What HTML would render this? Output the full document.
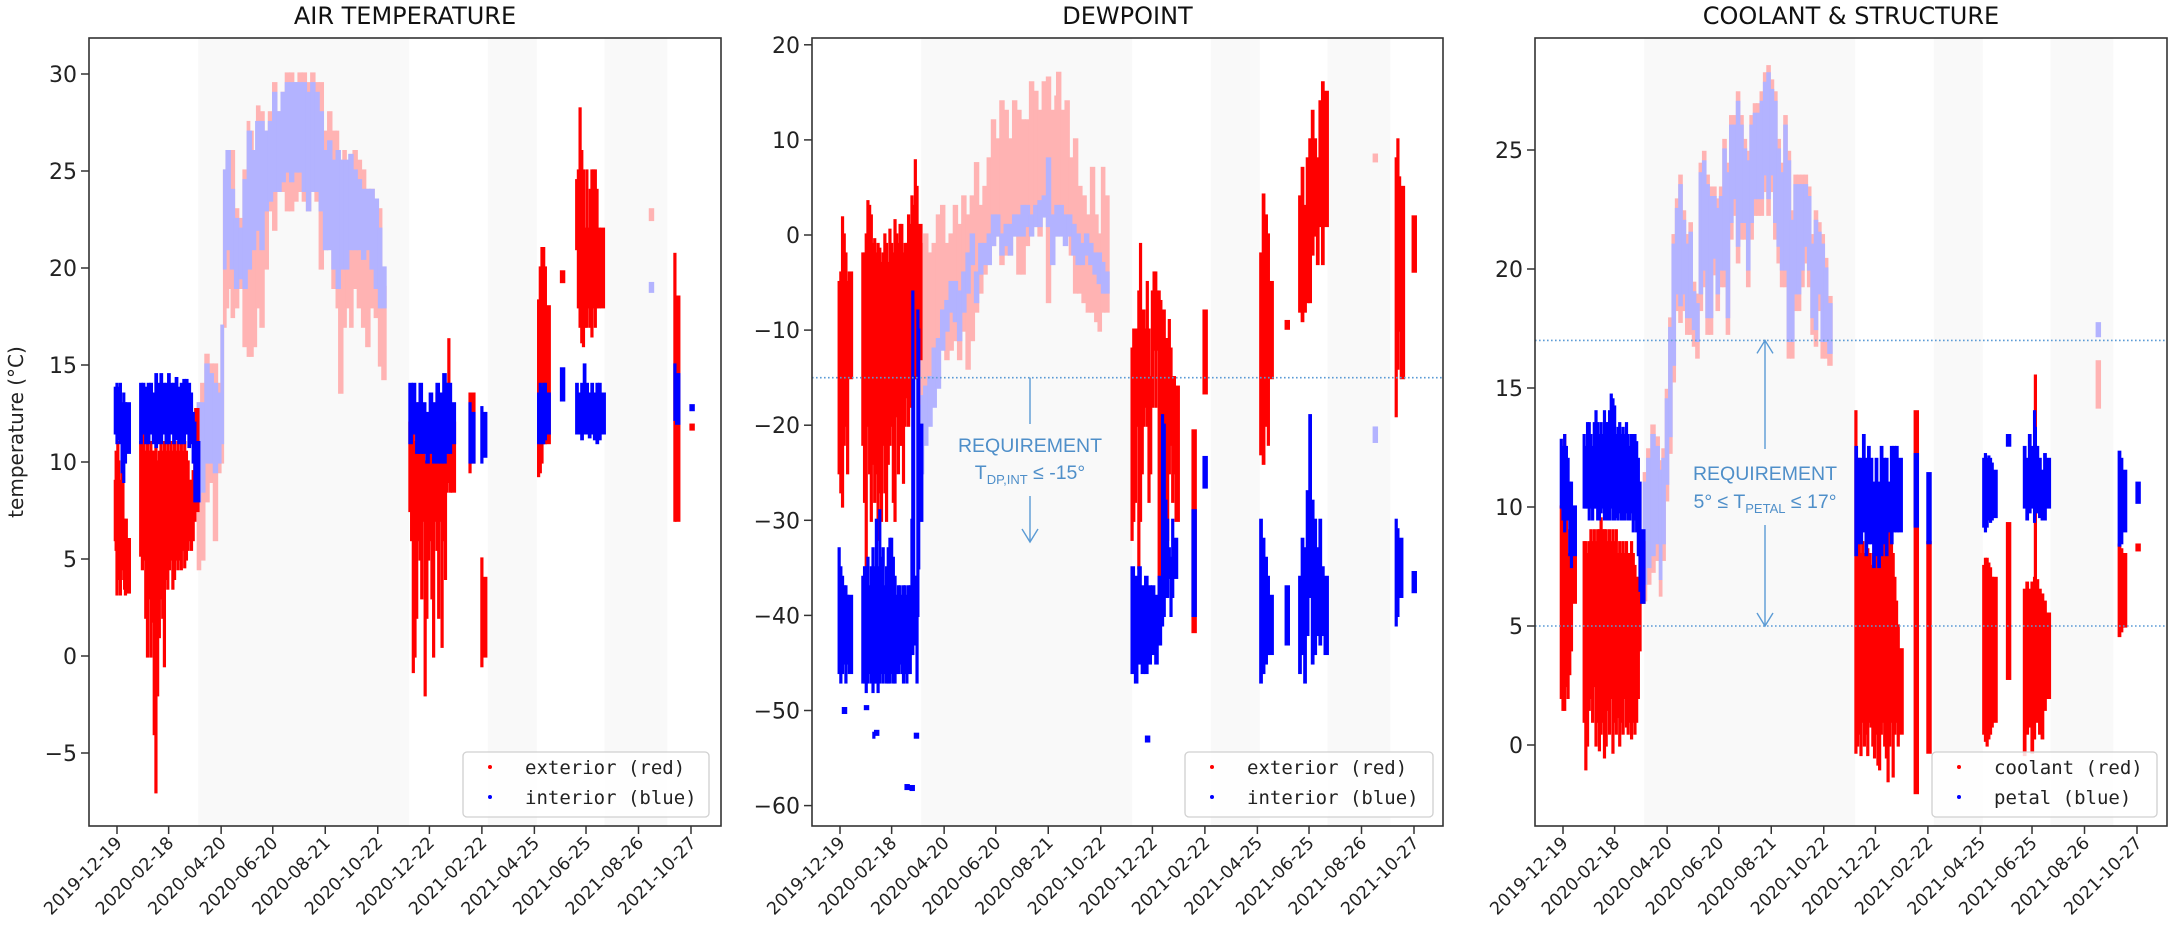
<!DOCTYPE html>
<html><head><meta charset="utf-8"><style>
html,body{margin:0;padding:0;background:#fff;}
svg{display:block;}
</style></head>
<body>
<svg id="fig" width="2170" height="929" viewBox="0 0 2170 929" xmlns="http://www.w3.org/2000/svg" font-family="'DejaVu Sans', sans-serif">
<rect x="0" y="0" width="2170" height="929" fill="#fff"/>
</svg>
<script>
// ---------- shared data ----------
const tickDates = ['2019-12-19','2020-02-18','2020-04-20','2020-06-20','2020-08-21','2020-10-22','2020-12-22','2021-02-22','2021-04-25','2021-06-25','2021-08-26','2021-10-27'];
const shadeBands = [[96,345],[438,496],[576,650]];

// ---------- AIR TEMPERATURE: [day, low, high] ----------
const airExterior = [[-2,6,9],[-1,5.5,10.5],[0,3.2,9],[1,4,11],[2,6,10],[3,5,9],[4,3.2,8],[5,5,7],[6,4.5,10],[7,6,9],[8,4,7],[9,3.5,6.5],[10,3.2,5],[11,4,7],[12,3.3,6],
[28,5.2,11],[30,4.5,11],[32,5,11.5],[34,2,10.5],[36,0,11],[38,3,10.5],[40,0,11],[42,1.8,10.5],[44,-4,10.5],[46,-7,11],[48,-2,10],[50,1,10.5],[52,3,11],[54,2,10.5],[56,-0.5,11],[58,4,10.5],[60,3.5,11],[62,4.5,10.5],[64,5,11],[66,3.5,10.5],[68,4,11],[70,5,10.5],[72,4.5,11],[74,5,10.5],[76,4.5,11],[78,5.5,10.5],[80,4.6,11],[82,5,10.5],[84,5.5,10],[86,6,9],[88,5.5,9],[90,6,9.5],[92,7,10],[93,7.5,12.7],
[346,7.5,12],[348,6,11],[350,-0.8,12],[352,0,11],[354,2,12],[356,6,13],[358,5,12],[360,3,11],[362,7,12.5],[364,-2,10],[366,2,11],[368,5,12],[370,6,11.5],[372,3,12],[374,0,12],[376,7,12.5],[378,5.5,13.5],[380,2,12],[382,7,12],[384,0.5,12],[386,6,13],[388,4,13],[390,8.5,14],[392,9,16.3],[394,8.5,12],[396,8.5,12],
[417,9.5,13.5],[419,10,13.5],[431,-0.5,5],[433,0,4],
[498,9.3,18.3],[500,9.5,20],[502,10,21],[504,11,21],[506,11,20],[508,11,18],[525,19.3,19.8],
[543,21,24.5],[545,18,25],[547,17,28.2],[549,16.2,26],[551,16,25],[553,17,22],[555,17,25],[557,18,22],[559,17,24],[561,16.5,25],[563,18,25],[565,17,25],[567,18,24],[569,18,22],[572,18,22],
[659,7,20.7],[661,7,18.5],[678,11.7,11.9]];
const airInterior = [[-2,11.5,13.8],[0,11,14],[2,11.2,13.8],[4,11,14],[6,9.5,13],[8,9,13.5],[10,10,13],[12,10.5,13],
[28,11,14],[31,11.5,14],[34,11,13.8],[37,11,14],[40,11.5,14],[43,11,13.5],[46,10.8,14.5],[49,11,14],[52,11,14.5],[55,11.5,14],[58,11,14],[61,11,14.5],[64,11.5,14],[67,11,14],[70,11.2,14.3],[73,11,13.8],[76,11,14],[79,11,14.2],[82,11.5,14.2],[85,10.8,14],[88,11,13.5],[90,10,12.5],[92,8,12],[94,8,11],
[346,11,14],[350,11.5,14],[354,10.5,13],[358,10.5,14],[362,10.5,13],[366,10,12.5],[370,10.5,13.5],[374,10,13],[378,10,14],[382,10,13.5],[386,10,14.5],[390,10.5,14],[394,10.5,14],[396,11,13],
[417,10,13],[419,10,12.5],[431,10,12.8],[433,10.3,12.5],
[498,11,13.5],[500,11,14],[502,11,13.8],[504,11,14],[506,11.2,14],[508,11.5,13.5],[525,13.2,14.8],
[543,11.5,14],[546,11.5,13.5],[549,11.2,14],[552,11.5,15],[555,11.5,14],[558,11.3,13.5],[561,11.5,14],[564,11.2,13.5],[567,11,14],[570,11.2,14],[573,11.5,13.5],
[659,12.2,15],[661,12,14.5],[678,12.7,12.9]];
const airExteriorFaded = [[96,4.5,13],[100,5,14],[105,8,15.5],[110,9,15],[115,6,15],[120,9.5,14],[124,10,17],[127,17,25],[130,18,26],[133,19,26],[136,17.5,26],[140,18,23],[145,19,22.5],[150,16,25],[155,15.5,27.5],[158,15.5,27],[162,16,25],[166,18,28.3],[170,17,28],[175,20,27],[180,23,28],[185,22,29.5],[190,24,28],[195,24,29],[200,23,30],[205,23,30],[210,23.5,29.5],[215,24,30],[220,23.5,30],[225,23,29.5],[230,24,30],[235,23.5,29.5],[240,20,29.5],[245,21,27],[250,22,28],[255,19,27],[260,18,27],[263,13.6,25.5],[268,17,26],[272,18,25.5],[276,17,25.8],[280,19,26],[285,18,25.5],[290,17,25],[295,16,24],[300,18,24],[305,17.5,23.5],[310,15,23],[314,14.3,19],[630,22.5,23]];
const airInteriorFaded = [[96,8,13],[100,8.5,13],[105,10,15],[110,10,14.5],[115,9.5,14],[120,10,13.5],[124,11,17],[127,20,25],[130,21,26],[135,20,24],[140,19,22.5],[145,19.5,22],[150,19,24.5],[155,20,27],[160,21,26],[165,22,27.5],[170,21,27.5],[175,23,27],[180,23.5,27.5],[185,24,29],[190,24,28],[195,24.5,29],[200,25,29.5],[205,24.5,29.5],[210,25,29.5],[215,25,29.5],[220,24,29.5],[225,23,29],[230,24,29.5],[235,24,29],[240,23,28],[245,21,26],[250,21,26.5],[255,20,25.5],[260,19,26],[265,20,25.5],[270,20,25.5],[275,21,25.8],[280,21,25],[285,21,24.5],[290,20.5,24],[295,21,24],[300,20,24],[305,19,23.5],[310,18,22],[314,18,20],[630,18.8,19.2]];

// ---------- DEWPOINT ----------
const dewExterior = [[-1,-25,-5],[1,-27,-4],[3,-28.5,1.8],[5,-22,0],[7,-20,-2],[9,-25,-5],[11,-15,-4],
[27,-22,-2],[29,-28,-2],[31,-35,0],[33,-20,3.5],[35,-25,3],[37,-30,2],[39,-24,-1],[41,-28,-0.5],[43,-25,-2],[45,-32,-1],[47,-27,-1.5],[49,-30,-3],[51,-22,-2],[53,-27,0],[55,-30,-1],[57,-24,-3],[59,-22,0.5],[61,-20,-1],[63,-28,-2],[65,-30,1.5],[67,-19,0],[69,-25,-1],[71,-22,1],[73,-22,1],[75,-26,-2],[77,-20,-1],[79,-17,-1],[81,-20,2],[83,-18,1],[85,-16,4],[87,-15,3],[89,-15,7.8],[91,-14,5],[93,-13,1],
[345,-32,-12],[347,-30,-10],[349,-28,-10],[351,-20,-10],[353,-35,-6],[355,-30,-1],[357,-25,-8],[359,-20,-8],[361,-18,-10],[363,-20,-5],[365,-28,-10],[367,-25,-15],[369,-18,-6],[371,-12,-4],[373,-18,-4],[375,-12,-6],[377,-38,-6],[379,-40,-7],[381,-30,-8],[383,-28,-8],[385,-30,-11],[387,-32,-11],[389,-25,-9],[391,-22,-12],[393,-28,-15],[395,-25,-15],[397,-30,-16],
[417,-41.7,-20.6],[430,-16.6,-8],
[497,-23,-2],[500,-24,4.2],[503,-20,2],[506,-22,0],[508,-15,-5],[527,-9.8,-9.1],
[543,-8,4],[546,-9,7],[549,-8,3],[552,-7,8],[555,-7,10],[558,-2,13],[561,0,10],[564,-3,8],[567,1,14],[570,-3,16],[573,1,15],
[657,-19,8],[659,-14,10],[661,-10,6],[663,-15,5],[677,-3.8,1.9]];
const dewInterior = [[-1,-46,-33],[1,-47,-35],[3,-46,-36],[5,-45,-37],[7,-47,-37],[9,-45,-38],[11,-46,-38],[4,-50.2,-49.8],
[27,-47,-36],[29,-47,-35],[31,-48,-35],[33,-47,-34],[35,-46,-37],[37,-47,-35],[39,-48,-33],[41,-47,-35],[43,-47,-30],[45,-48,-35],[47,-47,-29],[49,-46,-34],[51,-47,-33],[53,-46,-37],[55,-47,-35],[57,-47,-33],[59,-47,-32],[61,-46,-32],[63,-47,-34],[65,-47,-36],[67,-46,-38],[69,-46,-37],[71,-45,-37],[73,-46,-38],[75,-47,-37],[77,-46,-37],[79,-47,-38],[81,-46,-37],[83,-46,-37],[85,-44,-30],[86,-44,-6],[87,-40,-15],[89,-43,-36],[91,-47,-36],[92,-40,-8],[93,-35,-10],[94,-30,-20],
[30,-49.8,-49.6],[40,-52.8,-52.4],[42,-52.5,-52.2],[78,-58.2,-57.9],[84,-58.3,-58],[89,-52.8,-52.5],
[345,-46,-35],[349,-47,-36],[353,-45,-35],[357,-46,-37],[361,-46,-36],[365,-45,-37],[369,-44,-37],[373,-45,-38],[377,-43,-36],[381,-41,-19],[383,-40,-20],[385,-38,-28],[387,-38,-30],[389,-36,-33],[391,-40,-34],[393,-38,-30],[395,-36,-32],[362,-53.2,-52.8],
[417,-40,-29],[430,-26.5,-23.4],
[497,-47,-30],[500,-46,-32],[503,-45,-34],[506,-44,-36],[508,-44,-38],[527,-43,-37],
[543,-46,-36],[546,-44,-32],[549,-47,-33],[552,-42,-27],[555,-38,-19],[558,-45,-28],[561,-44,-30],[564,-42,-33],[567,-43,-30],[570,-42,-35],[573,-44,-36],
[657,-41,-30],[659,-40,-31],[661,-38,-32],[677,-37.5,-35.5]];
const dewExteriorFaded = [[95,-22,-1],[100,-20,0],[105,-18,-2],[110,-15,-1],[115,-12,2],[120,-10,3],[125,-13,-1],[130,-12,0],[135,-11,3],[140,-13,1],[145,-10,4],[150,-14,2],[155,-11,4],[160,-8,7.5],[165,-6,3],[170,-4,5],[175,-2,8],[180,-1,12],[185,0,10],[190,-3,14],[195,-2,13],[200,-2,10],[205,0,14],[210,-4,13],[215,-4,12],[220,-1,12],[225,2,16],[230,1,15],[235,0,13],[240,3,16],[245,-7,16.5],[250,-2,13],[255,0,14.5],[257,3,17],[262,2,13],[267,0,14],[272,-2,8],[277,-6,10],[282,-6,5],[287,-7,4],[292,-8,2],[297,-8,7],[302,-9,2],[306,-10,0],[310,-8,7],[314,-8,4],[631,7.8,8.4]];
const dewInteriorFaded = [[94,-30,-18],[97,-25,-17],[100,-22,-16],[105,-20,-15],[110,-18,-12],[115,-16,-11],[120,-12,-8],[125,-10,-7],[130,-8,-5],[135,-9,-5],[140,-11,-6],[145,-8,-4],[150,-6,-2],[155,-3,0],[160,-7,-4],[165,-4,-1],[170,-3,-1],[175,-3,0],[180,-1,2],[185,0,2],[190,-2,0],[195,-1,1],[200,-2,1],[205,0,2],[210,0,2],[215,0,3],[220,1,3],[225,0,2],[230,1,3],[235,1,3.5],[240,2,4],[245,1,8],[250,-3,2],[255,0,3],[260,0,3],[265,-1,2],[270,0,2],[275,-2,1],[280,-3,0],[285,-3,-1],[290,-2,0],[295,-3,-1],[300,-4,-2],[305,-5,-2],[310,-6,-3],[314,-6,-4],[631,-21.7,-20.3]];

// ---------- COOLANT & STRUCTURE ----------
const coolantRed = [[-2,2,10],[0,1.5,12],[2,1.5,13],[4,2.5,11],[6,2,8],[8,3,9],[10,4,9],[12,6,9],
[25,1,8.5],[27,-1,8.5],[29,0,8],[31,1.5,8.5],[33,2,9],[35,1,8.5],[37,2.5,9],[39,0,8.5],[41,1,9],[43,-0.2,9],[45,0.5,9.5],[47,1,9],[49,-0.5,9],[51,0,9],[53,1.5,8.5],[55,0.5,9],[57,2,8.5],[59,-0.3,9],[61,1,8.5],[63,0.5,9],[65,1.2,8],[67,0,8.5],[69,1,8],[71,0.5,8.5],[73,2,8],[75,0.8,8.5],[77,0.5,8],[79,1,8],[81,0.3,8.5],[83,1,8],[85,0.5,7.5],[87,1,7],[89,2,7],[91,4,8],[93,6,8.5],
[346,-0.3,14],[348,0,12],[350,0.5,9],[352,-0.4,8],[354,1,8.5],[356,0,8],[358,0.5,8],[360,-0.4,8.2],[362,1,8],[364,0.8,7.5],[366,0,8],[368,-0.5,8.2],[370,0.5,8],[372,-0.8,8],[374,-1,7.5],[376,0.5,8.2],[378,1,8],[380,0,8.5],[382,-0.5,8],[384,-1.5,8.5],[386,0,9],[388,1,9],[390,-1.3,8],[392,0.5,7],[394,1,6],[396,0,5],[398,0.5,4],
[416,-2,14],[431,-0.3,8.5],
[497,0.5,7.5],[499,0.2,7.8],[501,0,7.8],[503,0.3,7.6],[505,0.5,7.4],[507,0.8,7],[509,1,7],[525,2.8,9.3],
[545,-0.4,6.5],[548,0.5,6.8],[551,0.8,6.5],[554,-0.3,6.8],[557,0.3,7],[558,6,15.5],[560,1,6.9],[563,0.5,6.5],[566,0.3,6.3],[569,1.5,6],[572,2,5.5],
[657,4.6,8.4],[660,4.8,8.2],[662,5,8],[678,8.2,8.4]];
const petalBlue = [[-2,10,12.8],[0,9.5,12.5],[2,9,13],[4,9.5,12.5],[6,9.5,12],[8,8,11],[10,7.5,11],[12,8,10],
[25,10,13],[27,10,12.5],[29,10,13.5],[31,9.5,13.5],[33,10,13],[35,9.5,12.5],[37,10,13.5],[39,10,14],[41,9.5,13.5],[43,9.5,13],[45,9.8,13.5],[47,10,13],[49,9.5,14],[51,9.5,13.5],[53,9.5,13.5],[55,9.5,14],[57,10,14.7],[59,9.5,14.5],[61,9.5,14.2],[63,9.6,13],[65,9.5,13.3],[67,9.8,13.5],[69,9.5,13],[71,9.5,13.3],[73,9.5,13],[75,9.8,13.5],[77,9.5,13],[79,9.5,12.5],[81,9.8,13],[83,9,13],[85,9.5,13],[87,9,12.7],[89,8,12],[91,6.5,11],[93,6,9],
[346,8,12.5],[349,8.5,12],[352,8.5,12],[355,9,13],[358,8,12],[361,8.5,12.5],[364,8.5,12],[367,7.5,11],[370,8,12],[373,7.5,11],[376,8,12.5],[379,8.5,12],[382,8,12],[385,9,11],[388,8.5,12.5],[391,9,12.5],[394,9,12.5],[397,9,12],
[416,9.2,12.2],[431,8.5,11.4],
[497,9.2,12],[499,9,12.2],[501,9.2,12],[503,9.5,12.1],[505,9.4,12],[507,9.5,11.8],[509,9.6,11.5],[525,12.6,13],
[545,10,12.5],[548,9.5,12],[551,9.8,13],[554,10,12.5],[557,9.4,14],[558,10,13.3],[560,9.8,12.5],[563,9.6,12],[566,9.5,11.5],[569,9.5,12.2],[572,10,12],
[657,8.4,12.3],[660,8.5,12],[662,9,11.5],[678,10.2,11]];
const coolantFaded = [[96,6.1,11.4],[100,6.8,12.4],[105,7.3,13.4],[110,7.8,12.9],[115,6.3,11.9],[118,7.8,12.4],[122,10.3,14.9],[126,12.3,17.9],[130,15.3,21.4],[134,18.3,22.9],[138,17.8,23.9],[142,18.3,22.4],[146,17.3,21.4],[150,17.3,21.9],[154,16.8,19.4],[158,16.3,18.9],[162,18.3,24.4],[166,19.3,24.9],[170,17.3,23.9],[174,17.3,23.4],[178,19.8,23.4],[182,18.3,22.9],[186,19.3,23.4],[190,19.3,25.4],[194,17.3,24.4],[198,21.3,26.4],[202,22.3,26.4],[206,20.3,27.4],[210,21.3,26.4],[214,21.3,25.4],[218,19.3,24.9],[222,21.3,26.4],[226,22.3,26.9],[230,22.3,26.9],[234,22.3,27.4],[238,23.3,28.2],[242,22.3,28.5],[246,23.3,27.9],[250,21.3,27.4],[254,20.3,25.4],[258,19.3,24.4],[262,19.3,26.4],[266,16.3,24.9],[270,16.3,22.4],[274,18.3,23.9],[278,18.3,23.9],[282,19.3,23.9],[286,20.3,23.9],[290,19.3,23.4],[294,17.3,21.4],[298,16.8,22.4],[302,18.3,21.9],[306,16.3,21.4],[310,16.3,20.4],[314,16,18.8],[631,14.2,16.1]];
const petalFaded = [[96,6.8,11],[100,7.5,12],[105,8,13],[110,8.5,12.5],[115,7,11.5],[118,8.5,12],[122,11,14.5],[126,13,17.5],[130,16,21],[134,19,22.5],[138,18.5,23.5],[142,19,22],[146,18,21],[150,18,21.5],[154,17.5,19],[158,17,18.5],[162,19,24],[166,20,24.5],[170,18,23.5],[174,18,23],[178,20.5,23],[182,19,22.5],[186,20,23],[190,20,25],[194,18,24],[198,22,26],[202,23,26],[206,21,27],[210,22,26],[214,22,25],[218,20,24.5],[222,22,26],[226,23,26.5],[230,23,26.5],[234,23,27],[238,24,27.8],[242,23,28.2],[246,24,27.5],[250,22,27],[254,21,25],[258,20,24],[262,20,26],[266,17,24.5],[270,17,22],[274,19,23.5],[278,19,23.5],[282,20,23.5],[286,21,23.5],[290,20,23],[294,18,21],[298,17.5,22],[302,19,21.5],[306,17,21],[310,17,20],[314,16.5,18.5],[631,17.2,17.7]];

const yTicksAir = [-5,0,5,10,15,20,25,30];
const yTicksDew = [-60,-50,-40,-30,-20,-10,0,10,20];
const yTicksCool = [0,5,10,15,20,25];

// ---------- drawing ----------
const NS = 'http://www.w3.org/2000/svg';
const svg = document.getElementById('fig');
function mk(tag, attrs, parent){ const e=document.createElementNS(NS,tag); for(const k in attrs) e.setAttribute(k,attrs[k]); (parent||svg).appendChild(e); return e; }
const PX_PER_DAY = 0.8466, X_OFF = 28;
const dayOf = s => (Date.UTC(+s.slice(0,4), +s.slice(5,7)-1, +s.slice(8,10)) - Date.UTC(2019,11,19))/86400000;

function panel(cfg){
  const {key,left,right,top,bottom,zeroY,ppu} = cfg;
  const xS = d => left + X_OFF + d*PX_PER_DAY;
  const yS = v => zeroY - v*ppu;
  const g = mk('g',{});
  
  
  const cid = 'clip-'+key;
  const cp = mk('clipPath',{id:cid}, g);
  mk('rect',{x:left,y:top,width:right-left,height:bottom-top},cp);
  const plot = mk('g',{'clip-path':'url(#'+cid+')'}, g);
  
  
  shadeBands.forEach(b=>{
    const r = mk('rect',{x:xS(b[0]),y:top,width:xS(b[1])-xS(b[0]),height:bottom-top,fill:'#f9f9f9'},plot);
    
    
  });
  function series(data,color,name){
    const sg = mk('g',{fill:color},plot);
    
    
    data.forEach((p,i)=>{
      let gap = 5;
      if(i+1<data.length && data[i+1][0]>p[0]) gap = Math.min(5, data[i+1][0]-p[0]);
      const w = Math.max(3.2, gap*PX_PER_DAY+1.2);
      const y1 = yS(p[2])-1.6, y2 = yS(p[1])+1.6;
      const r = mk('rect',{x:xS(p[0])-1.6,y:y1,width:w,height:y2-y1},sg);
      
      
    });
  }
  series(cfg.fadedA,'#ffb3b3',cfg.names[0]+'-faded');
  series(cfg.fadedB,'#b3b3ff',cfg.names[1]+'-faded');
  series(cfg.seriesA,'#ff0000',cfg.names[0]);
  series(cfg.seriesB,'#0000ff',cfg.names[1]);
  (cfg.reqLines||[]).forEach(v=>{
    const l = mk('line',{x1:left,x2:right,y1:yS(v),y2:yS(v),stroke:'#5b9bd5','stroke-width':1.6,'stroke-dasharray':'1.6 2.4'},plot);
    
    
  });
  if(cfg.annot) cfg.annot(g,xS,yS);
  // frame
  const fr = mk('rect',{x:left,y:top,width:right-left,height:bottom-top,fill:'none',stroke:'#333','stroke-width':1.6},g);
  
  
  // y ticks
  cfg.yTicks.forEach(v=>{
    const y=yS(v);
    const t = mk('line',{x1:left-8,x2:left,y1:y,y2:y,stroke:'#333','stroke-width':1.5},g);
    
    
    const tx = mk('text',{x:left-12,y:y+8,'text-anchor':'end','font-size':22,fill:'#222'},g);
    tx.textContent = (v<0?'\u2212'+(-v):String(v));
    
    
  });
  // x ticks
  tickDates.forEach(s=>{
    const x=xS(dayOf(s));
    const t = mk('line',{x1:x,x2:x,y1:bottom,y2:bottom+8,stroke:'#333','stroke-width':1.5},g);
    
    
    const tx = mk('text',{x:x+6,y:bottom+18,'text-anchor':'end','font-size':17.5,fill:'#222',transform:`rotate(-45 ${x+6} ${bottom+18})`},g);
    tx.textContent = s;
    
    
  });
  const ti = mk('text',{x:(left+right)/2,y:24,'text-anchor':'middle','font-size':24,fill:'#111'},g);
  ti.textContent = cfg.title;
  
  
  // legend
  const L = cfg.legend;
  const lg = mk('g',{},g);
  
  
  mk('rect',{x:L.x,y:752,width:L.w,height:65,rx:4,fill:'#fff','fill-opacity':0.85,stroke:'#d0d0d0','stroke-width':1.3},lg);
  [[cfg.legendText[0],'#ff0000',772],[cfg.legendText[1],'#0000ff',802]].forEach(e=>{
    const c = mk('circle',{cx:L.x+27,cy:e[2]-5,r:2,fill:e[1]},lg);
    
    
    const t = mk('text',{x:L.x+62,y:e[2]+2,'font-family':"'DejaVu Sans Mono','Liberation Mono',monospace",'font-size':19,fill:'#222'},lg);
    t.textContent = e[0];
    
    
  });
}

function arrowHead(g,x,y,dir){
  const h = mk('path',{d:`M${x-8} ${y-dir*13} L${x} ${y} L${x+8} ${y-dir*13}`,fill:'none',stroke:'#5b9bd5','stroke-width':1.4},g);
  
  
}
function reqText(g,x,y1,y2,sub,pre,post){
  const f = "'Liberation Sans','DejaVu Sans',sans-serif";
  const t1 = mk('text',{x:x,y:y1,'text-anchor':'middle','font-size':19.5,fill:'#4f8fc9','font-family':f},g);
  t1.textContent='REQUIREMENT';
  
  
  const t2 = mk('text',{x:x,y:y2,'text-anchor':'middle','font-size':19.5,fill:'#4f8fc9','font-family':f},g);
  
  
  const a = mk('tspan',{},t2); a.textContent = pre;
  const b = mk('tspan',{'font-size':13,dy:5},t2); b.textContent = sub;
  const c = mk('tspan',{dy:-5},t2); c.textContent = post;
}

panel({key:'air',title:'AIR TEMPERATURE',left:89,right:721,top:38,bottom:826,zeroY:656,ppu:19.4,yTicks:yTicksAir,
  seriesA:airExterior,seriesB:airInterior,fadedA:airExteriorFaded,fadedB:airInteriorFaded,names:['exterior','interior'],
  legend:{x:463,w:246},legendText:['exterior (red)','interior (blue)']});
panel({key:'dew',title:'DEWPOINT',left:812,right:1443,top:38,bottom:826,zeroY:235,ppu:9.51,yTicks:yTicksDew,
  seriesA:dewExterior,seriesB:dewInterior,fadedA:dewExteriorFaded,fadedB:dewInteriorFaded,names:['exterior','interior'],
  legend:{x:1185,w:248},legendText:['exterior (red)','interior (blue)'],reqLines:[-15],
  annot:(g,xS,yS)=>{
    const x=1030;
    const l1=mk('line',{x1:x,x2:x,y1:yS(-15),y2:424,stroke:'#5b9bd5','stroke-width':1.4},g);
    
    
    reqText(g,x,452,479,'DP,INT','T',' \u2264 -15\u00b0');
    const l2=mk('line',{x1:x,x2:x,y1:496,y2:542,stroke:'#5b9bd5','stroke-width':1.4},g);
    
    
    arrowHead(g,x,542,1);
  }});
panel({key:'coolant',title:'COOLANT & STRUCTURE',left:1535,right:2167,top:38,bottom:826,zeroY:745,ppu:23.8,yTicks:yTicksCool,
  seriesA:coolantRed,seriesB:petalBlue,fadedA:coolantFaded,fadedB:petalFaded,names:['coolant','petal'],
  legend:{x:1932,w:225},legendText:['coolant (red)','petal (blue)'],reqLines:[17,5],
  annot:(g,xS,yS)=>{
    const x=1765;
    const l1=mk('line',{x1:x,x2:x,y1:yS(17),y2:449,stroke:'#5b9bd5','stroke-width':1.4},g);
    
    
    arrowHead(g,x,yS(17),-1);
    reqText(g,x,480,508,'PETAL','5\u00b0 \u2264 T',' \u2264 17\u00b0');
    const l2=mk('line',{x1:x,x2:x,y1:525,y2:yS(5),stroke:'#5b9bd5','stroke-width':1.4},g);
    
    
    arrowHead(g,x,yS(5),1);
  }});

const yl = mk('text',{x:23,y:432,'text-anchor':'middle','font-size':20,fill:'#222',transform:'rotate(-90 23 432)'});
yl.textContent='temperature (\u00b0C)';


</script>
</body></html>
